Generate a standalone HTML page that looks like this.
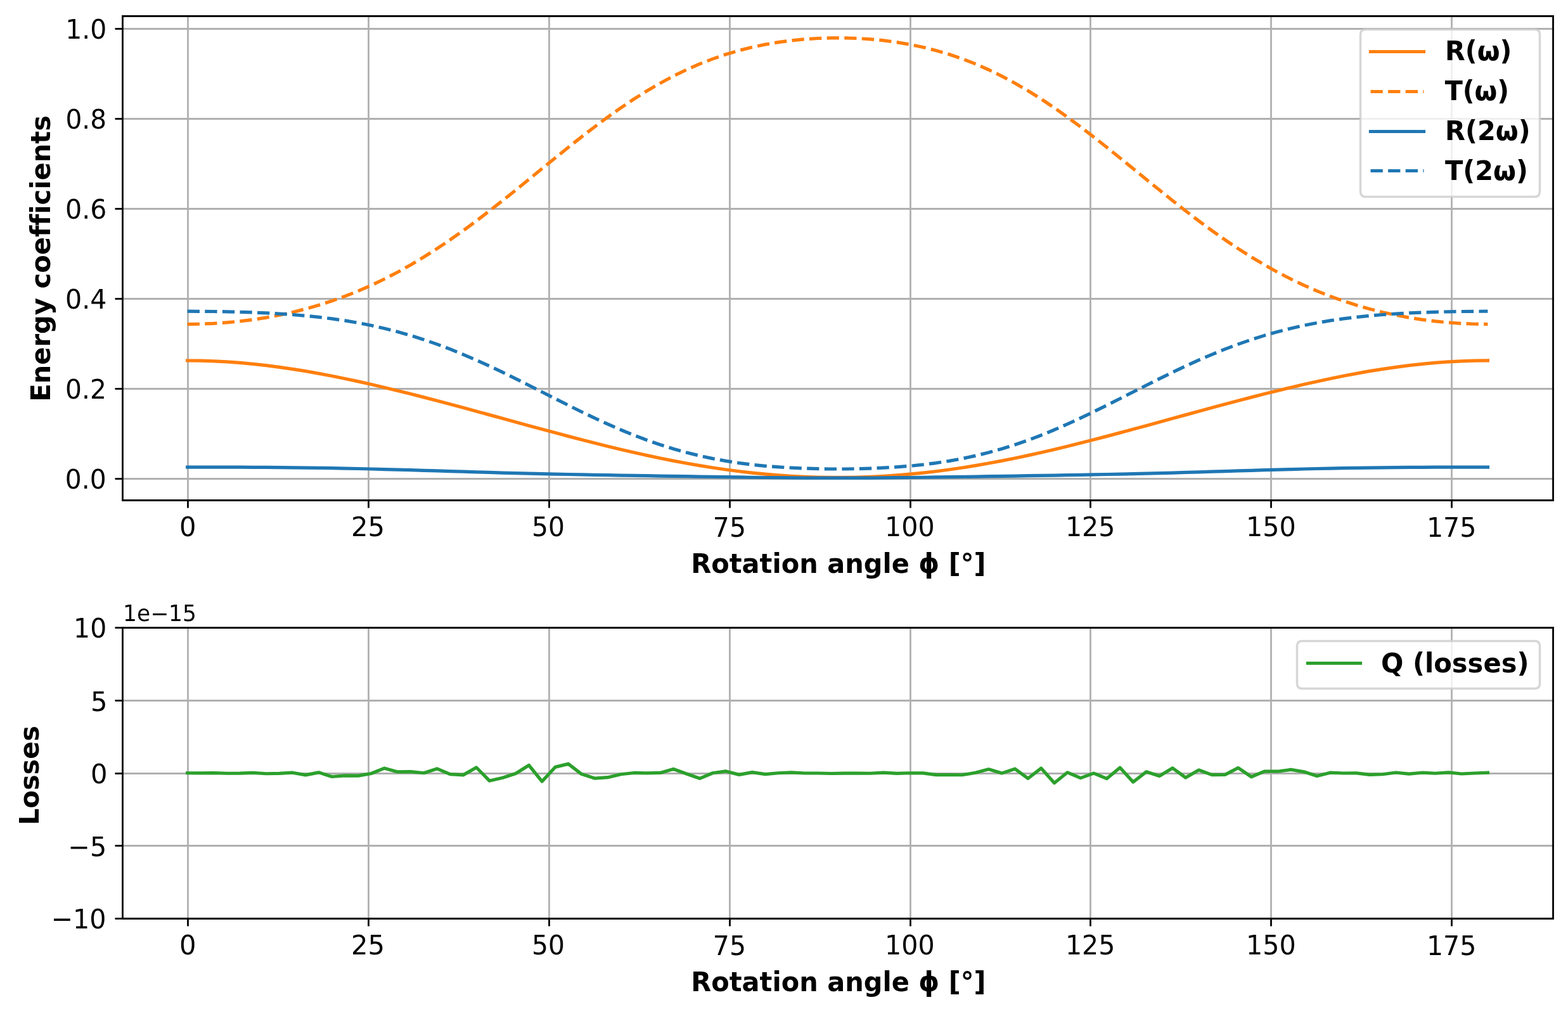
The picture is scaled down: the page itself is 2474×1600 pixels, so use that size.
<!DOCTYPE html>
<html lang="en">
<head>
<meta charset="utf-8">
<title>Energy coefficients vs rotation angle</title>
<style>
html,body{margin:0;padding:0;background:#ffffff;}
body{width:2474px;height:1600px;overflow:hidden;}
svg{display:block;}
text{white-space:pre;font-variant-ligatures:none;font-feature-settings:"liga" 0,"clig" 0,"dlig" 0;}
</style>
</head>
<body>
<svg xmlns="http://www.w3.org/2000/svg" width="2474" height="1600" viewBox="0 0 2474 1600" font-family="'DejaVu Sans', 'Liberation Sans', sans-serif">
<rect x="0" y="0" width="2474" height="1600" fill="#ffffff"/>
<defs>
<clipPath id="c1"><rect x="193.1" y="25" width="2256.9" height="764"/></clipPath>
<clipPath id="c2"><rect x="193.1" y="990.1" width="2256.9" height="459"/></clipPath>
</defs>
<g id="axes1">
<g stroke="#b0b0b0" stroke-width="2.778" fill="none" clip-path="url(#c1)">
<path d="M296.5 789V25"/>
<path d="M581.5 789V25"/>
<path d="M866.5 789V25"/>
<path d="M1151.5 789V25"/>
<path d="M1436.5 789V25"/>
<path d="M1720.5 789V25"/>
<path d="M2005.5 789V25"/>
<path d="M2290.5 789V25"/>
<path d="M193.1 755.5H2450"/>
<path d="M193.1 613.5H2450"/>
<path d="M193.1 471.5H2450"/>
<path d="M193.1 329.5H2450"/>
<path d="M193.1 187.5H2450"/>
<path d="M193.1 45.5H2450"/>
</g>
<g stroke="#000000" stroke-width="2.778" fill="none">
<path d="M296.5 789.5v12"/>
<path d="M581.5 789.5v12"/>
<path d="M866.5 789.5v12"/>
<path d="M1151.5 789.5v12"/>
<path d="M1436.5 789.5v12"/>
<path d="M1720.5 789.5v12"/>
<path d="M2005.5 789.5v12"/>
<path d="M2290.5 789.5v12"/>
<path d="M193.5 755.5h-12"/>
<path d="M193.5 613.5h-12"/>
<path d="M193.5 471.5h-12"/>
<path d="M193.5 329.5h-12"/>
<path d="M193.5 187.5h-12"/>
<path d="M193.5 45.5h-12"/>
</g>
<g fill="none" stroke-width="5.208" stroke-linejoin="round" clip-path="url(#c1)">
<polyline points="295.69,568.98 316.41,569.19 337.14,569.85 357.86,570.93 378.58,572.43 399.31,574.33 420.03,576.63 440.76,579.3 461.48,582.32 482.21,585.67 502.93,589.33 523.66,593.27 544.38,597.48 565.11,601.92 585.83,606.57 606.55,611.42 627.28,616.43 648,621.59 668.73,626.88 689.45,632.28 710.18,637.77 730.9,643.34 751.63,648.96 772.35,654.62 793.07,660.3 813.8,665.98 834.52,671.65 855.25,677.28 875.97,682.86 896.7,688.36 917.42,693.76 938.15,699.05 958.87,704.2 979.6,709.19 1000.32,714 1021.04,718.61 1041.77,723 1062.49,727.15 1083.22,731.04 1103.94,734.65 1124.67,737.99 1145.39,741.02 1166.12,743.74 1186.84,746.14 1207.57,748.21 1228.29,749.94 1249.01,751.34 1269.74,752.38 1290.46,753.09 1311.19,753.44 1331.91,753.44 1352.64,753.09 1373.36,752.38 1394.09,751.34 1414.81,749.94 1435.53,748.21 1456.26,746.14 1476.98,743.74 1497.71,741.02 1518.43,737.99 1539.16,734.65 1559.88,731.04 1580.61,727.15 1601.33,723 1622.06,718.61 1642.78,714 1663.5,709.19 1684.23,704.2 1704.95,699.05 1725.68,693.76 1746.4,688.36 1767.13,682.86 1787.85,677.28 1808.58,671.65 1829.3,665.98 1850.03,660.3 1870.75,654.62 1891.47,648.96 1912.2,643.34 1932.92,637.77 1953.65,632.28 1974.37,626.88 1995.1,621.59 2015.82,616.43 2036.55,611.42 2057.27,606.57 2077.99,601.92 2098.72,597.48 2119.44,593.27 2140.17,589.33 2160.89,585.67 2181.62,582.32 2202.34,579.3 2223.07,576.63 2243.79,574.33 2264.52,572.43 2285.24,570.93 2305.96,569.85 2326.69,569.19 2347.41,568.98" stroke="#ff7f0e" stroke-linecap="square"/>
<polyline points="295.69,511.53 316.41,511.25 337.14,510.39 357.86,508.96 378.58,506.94 399.31,504.33 420.03,501.09 440.76,497.22 461.48,492.69 482.21,487.47 502.93,481.53 523.66,474.85 544.38,467.41 565.11,459.17 585.83,450.11 606.55,440.23 627.28,429.51 648,417.95 668.73,405.57 689.45,392.4 710.18,378.47 730.9,363.83 751.63,348.56 772.35,332.74 793.07,316.47 813.8,299.85 834.52,283.02 855.25,266.09 875.97,249.21 896.7,232.5 917.42,216.12 938.15,200.19 958.87,184.83 979.6,170.16 1000.32,156.27 1021.04,143.26 1041.77,131.18 1062.49,120.08 1083.22,109.99 1103.94,100.92 1124.67,92.86 1145.39,85.78 1166.12,79.67 1186.84,74.47 1207.57,70.13 1228.29,66.61 1249.01,63.86 1269.74,61.84 1290.46,60.52 1311.19,59.86 1331.91,59.86 1352.64,60.52 1373.36,61.84 1394.09,63.86 1414.81,66.61 1435.53,70.13 1456.26,74.47 1476.98,79.67 1497.71,85.78 1518.43,92.86 1539.16,100.92 1559.88,109.99 1580.61,120.08 1601.33,131.18 1622.06,143.26 1642.78,156.27 1663.5,170.16 1684.23,184.83 1704.95,200.19 1725.68,216.12 1746.4,232.5 1767.13,249.21 1787.85,266.09 1808.58,283.02 1829.3,299.85 1850.03,316.47 1870.75,332.74 1891.47,348.56 1912.2,363.83 1932.92,378.47 1953.65,392.4 1974.37,405.57 1995.1,417.95 2015.82,429.51 2036.55,440.23 2057.27,450.11 2077.99,459.17 2098.72,467.41 2119.44,474.85 2140.17,481.53 2160.89,487.47 2181.62,492.69 2202.34,497.22 2223.07,501.09 2243.79,504.33 2264.52,506.94 2285.24,508.96 2305.96,510.39 2326.69,511.25 2347.41,511.53" stroke="#ff7f0e" stroke-linecap="butt" stroke-dasharray="19.271 8.333"/>
<polyline points="295.69,737.04 316.41,737.05 337.14,737.07 357.86,737.12 378.58,737.19 399.31,737.29 420.03,737.42 440.76,737.59 461.48,737.79 482.21,738.04 502.93,738.33 523.66,738.68 544.38,739.07 565.11,739.51 585.83,740 606.55,740.53 627.28,741.1 648,741.69 668.73,742.31 689.45,742.94 710.18,743.58 730.9,744.21 751.63,744.84 772.35,745.44 793.07,746.03 813.8,746.58 834.52,747.11 855.25,747.61 875.97,748.07 896.7,748.51 917.42,748.92 938.15,749.31 958.87,749.67 979.6,750.03 1000.32,750.38 1021.04,750.72 1041.77,751.05 1062.49,751.38 1083.22,751.71 1103.94,752.04 1124.67,752.36 1145.39,752.67 1166.12,752.97 1186.84,753.25 1207.57,753.5 1228.29,753.72 1249.01,753.91 1269.74,754.05 1290.46,754.15 1311.19,754.2 1331.91,754.2 1352.64,754.15 1373.36,754.05 1394.09,753.91 1414.81,753.72 1435.53,753.5 1456.26,753.25 1476.98,752.97 1497.71,752.67 1518.43,752.36 1539.16,752.04 1559.88,751.71 1580.61,751.38 1601.33,751.05 1622.06,750.72 1642.78,750.38 1663.5,750.03 1684.23,749.67 1704.95,749.31 1725.68,748.92 1746.4,748.51 1767.13,748.07 1787.85,747.61 1808.58,747.11 1829.3,746.58 1850.03,746.03 1870.75,745.44 1891.47,744.84 1912.2,744.21 1932.92,743.58 1953.65,742.94 1974.37,742.31 1995.1,741.69 2015.82,741.1 2036.55,740.53 2057.27,740 2077.99,739.51 2098.72,739.07 2119.44,738.68 2140.17,738.33 2160.89,738.04 2181.62,737.79 2202.34,737.59 2223.07,737.42 2243.79,737.29 2264.52,737.19 2285.24,737.12 2305.96,737.07 2326.69,737.05 2347.41,737.04" stroke="#1f77b4" stroke-linecap="square"/>
<polyline points="295.69,491.21 316.41,491.28 337.14,491.48 357.86,491.82 378.58,492.32 399.31,493.01 420.03,493.9 440.76,495.05 461.48,496.48 482.21,498.23 502.93,500.36 523.66,502.91 544.38,505.92 565.11,509.45 585.83,513.52 606.55,518.18 627.28,523.46 648,529.36 668.73,535.91 689.45,543.1 710.18,550.9 730.9,559.29 751.63,568.23 772.35,577.65 793.07,587.47 813.8,597.62 834.52,608 855.25,618.51 875.97,629.04 896.7,639.47 917.42,649.71 938.15,659.64 958.87,669.17 979.6,678.22 1000.32,686.7 1021.04,694.56 1041.77,701.76 1062.49,708.26 1083.22,714.07 1103.94,719.17 1124.67,723.6 1145.39,727.37 1166.12,730.55 1186.84,733.17 1207.57,735.29 1228.29,736.95 1249.01,738.21 1269.74,739.12 1290.46,739.7 1311.19,739.99 1331.91,739.99 1352.64,739.7 1373.36,739.12 1394.09,738.21 1414.81,736.95 1435.53,735.29 1456.26,733.17 1476.98,730.55 1497.71,727.37 1518.43,723.6 1539.16,719.17 1559.88,714.07 1580.61,708.26 1601.33,701.76 1622.06,694.56 1642.78,686.7 1663.5,678.22 1684.23,669.17 1704.95,659.64 1725.68,649.71 1746.4,639.47 1767.13,629.04 1787.85,618.51 1808.58,608 1829.3,597.62 1850.03,587.47 1870.75,577.65 1891.47,568.23 1912.2,559.29 1932.92,550.9 1953.65,543.1 1974.37,535.91 1995.1,529.36 2015.82,523.46 2036.55,518.18 2057.27,513.52 2077.99,509.45 2098.72,505.92 2119.44,502.91 2140.17,500.36 2160.89,498.23 2181.62,496.48 2202.34,495.05 2223.07,493.9 2243.79,493.01 2264.52,492.32 2285.24,491.82 2305.96,491.48 2326.69,491.28 2347.41,491.21" stroke="#1f77b4" stroke-linecap="butt" stroke-dasharray="19.271 8.333"/>
</g>
<path d="M193.5 789.5V25.5H2450.5V789.5Z" fill="none" stroke="#000000" stroke-width="2.778" stroke-linejoin="miter"/>
</g>
<g id="axes2">
<g stroke="#b0b0b0" stroke-width="2.778" fill="none" clip-path="url(#c2)">
<path d="M296.5 1449.1V990.1"/>
<path d="M581.5 1449.1V990.1"/>
<path d="M866.5 1449.1V990.1"/>
<path d="M1151.5 1449.1V990.1"/>
<path d="M1436.5 1449.1V990.1"/>
<path d="M1720.5 1449.1V990.1"/>
<path d="M2005.5 1449.1V990.1"/>
<path d="M2290.5 1449.1V990.1"/>
<path d="M193.1 1449.5H2450"/>
<path d="M193.1 1334.5H2450"/>
<path d="M193.1 1220.5H2450"/>
<path d="M193.1 1105.5H2450"/>
<path d="M193.1 990.5H2450"/>
</g>
<g stroke="#000000" stroke-width="2.778" fill="none">
<path d="M296.5 1449.5v12"/>
<path d="M581.5 1449.5v12"/>
<path d="M866.5 1449.5v12"/>
<path d="M1151.5 1449.5v12"/>
<path d="M1436.5 1449.5v12"/>
<path d="M1720.5 1449.5v12"/>
<path d="M2005.5 1449.5v12"/>
<path d="M2290.5 1449.5v12"/>
<path d="M193.5 1449.5h-12"/>
<path d="M193.5 1334.5h-12"/>
<path d="M193.5 1220.5h-12"/>
<path d="M193.5 1105.5h-12"/>
<path d="M193.5 990.5h-12"/>
</g>
<g fill="none" stroke-width="5.208" stroke-linejoin="round" clip-path="url(#c2)">
<polyline points="295.69,1219.73 316.41,1219.85 337.14,1219.6 357.86,1220.23 378.58,1220.1 399.31,1219.47 420.03,1220.73 440.76,1220.36 461.48,1219.22 482.21,1222.88 502.93,1218.84 523.66,1225.52 544.38,1223.88 565.11,1224.14 585.83,1220.48 606.55,1212.17 627.28,1217.96 648,1217.58 668.73,1219.73 689.45,1212.92 710.18,1221.62 730.9,1222.88 751.63,1211.03 772.35,1232.07 793.07,1227.29 813.8,1220.48 834.52,1207.5 855.25,1233.08 875.97,1210.4 896.7,1205.36 917.42,1221.36 938.15,1228.04 958.87,1226.66 979.6,1221.74 1000.32,1219.47 1021.04,1219.85 1041.77,1219.47 1062.49,1213.43 1083.22,1220.99 1103.94,1228.29 1124.67,1219.73 1145.39,1216.95 1166.12,1222.37 1186.84,1218.59 1207.57,1221.62 1228.29,1219.73 1249.01,1218.84 1269.74,1219.98 1290.46,1219.98 1311.19,1220.48 1331.91,1220.1 1352.64,1220.1 1373.36,1220.23 1394.09,1219.22 1414.81,1220.36 1435.53,1219.73 1456.26,1219.85 1476.98,1222.62 1497.71,1222.62 1518.43,1222.75 1539.16,1219.22 1559.88,1213.8 1580.61,1220.1 1601.33,1213.17 1622.06,1228.29 1642.78,1212.17 1663.5,1235.48 1684.23,1218.84 1704.95,1227.66 1725.68,1220.1 1746.4,1228.55 1767.13,1211.28 1787.85,1233.96 1808.58,1217.84 1829.3,1224.51 1850.03,1211.91 1870.75,1227.03 1891.47,1215.06 1912.2,1222.62 1932.92,1222.37 1953.65,1211.66 1974.37,1225.77 1995.1,1217.21 2015.82,1217.21 2036.55,1214.43 2057.27,1217.84 2077.99,1224.51 2098.72,1219.22 2119.44,1219.98 2140.17,1219.85 2160.89,1222.37 2181.62,1221.74 2202.34,1218.97 2223.07,1221.11 2243.79,1219.22 2264.52,1220.23 2285.24,1218.84 2305.96,1220.99 2326.69,1219.98 2347.41,1219.22" stroke="#2ca02c" stroke-linecap="square"/>
</g>
<path d="M193.5 1449.5V990.5H2450.5V1449.5Z" fill="none" stroke="#000000" stroke-width="2.778" stroke-linejoin="miter"/>
</g>
<g id="legend1">
<path d="M2154.5 310.5H2421.5Q2429.5 310.5 2429.5 301.5V54.5Q2429.5 46.5 2421.5 46.5H2154.5Q2146.5 46.5 2146.5 54.5V301.5Q2146.5 310.5 2154.5 310.5Z" fill="#ffffff" fill-opacity="0.8" stroke="#cccccc" stroke-opacity="0.8" stroke-width="3.472" stroke-linejoin="miter"/>
<path d="M2162.5 81.5H2246.5" stroke="#ff7f0e" stroke-width="5.208" stroke-linecap="square" fill="none"/>
<path d="M2162.5 144.5H2246.5" stroke="#ff7f0e" stroke-width="5.208" stroke-dasharray="19.271 8.333" fill="none"/>
<path d="M2162.5 207.5H2246.5" stroke="#1f77b4" stroke-width="5.208" stroke-linecap="square" fill="none"/>
<path d="M2162.5 269.5H2246.5" stroke="#1f77b4" stroke-width="5.208" stroke-dasharray="19.271 8.333" fill="none"/>
</g>
<g id="legend2">
<path d="M2054.5 1086.5H2421.5Q2429.5 1086.5 2429.5 1078.5V1019.5Q2429.5 1011.5 2421.5 1011.5H2054.5Q2046.5 1011.5 2046.5 1019.5V1078.5Q2046.5 1086.5 2054.5 1086.5Z" fill="#ffffff" fill-opacity="0.8" stroke="#cccccc" stroke-opacity="0.8" stroke-width="3.472" stroke-linejoin="miter"/>
<path d="M2063.5 1046.5H2146.5" stroke="#2ca02c" stroke-width="5.208" stroke-linecap="square" fill="none"/>
</g>
<g id="labels" fill="#000000">
<text id="t0" transform="translate(102.83 770.51) scale(0.9785 1.0404)" font-size="41.667">0.0</text>
<text id="t1" transform="translate(103.11 628.54) scale(0.9786 1.0414)" font-size="41.667">0.2</text>
<text id="t2" transform="translate(103.08 487.25) scale(0.9873 1.0225)" font-size="41.667">0.4</text>
<text id="t3" transform="translate(103.04 344.53) scale(0.9882 1.0388)" font-size="41.667">0.6</text>
<text id="t4" transform="translate(103.39 202.52) scale(0.9751 1.0398)" font-size="41.667">0.8</text>
<text id="t5" transform="translate(103.26 60.51) scale(0.9819 1.039)" font-size="41.667">1.0</text>
<text id="t6" transform="translate(283.01 845.51) scale(0.9989 1.0393)" font-size="41.667">0</text>
<text id="t7" transform="translate(554.03 846.42) scale(1.0012 1.0377)" font-size="41.667">25</text>
<text id="t8" transform="translate(839 846.41) scale(0.9801 1.0362)" font-size="41.667">50</text>
<text id="t9" transform="translate(1124.8 846.5) scale(0.9841 1.0328)" font-size="41.667">75</text>
<text id="t10" transform="translate(1396.01 845.51) scale(0.9893 1.0386)" font-size="41.667">100</text>
<text id="t11" transform="translate(1680.95 846.38) scale(0.9871 1.0355)" font-size="41.667">125</text>
<text id="t12" transform="translate(1966.01 846.44) scale(0.9897 1.0346)" font-size="41.667">150</text>
<text id="t13" transform="translate(2250.96 847.46) scale(0.9872 1.0305)" font-size="41.667">175</text>
<text id="t14" transform="translate(1090.17 903.5) scale(0.997 1.0256)" font-size="41.667" font-weight="bold">Rotation angle ϕ [°]</text>
<text id="t15" transform="translate(78.5 633.86) rotate(-90) scale(0.9994 1.0256)" font-size="41.667" font-weight="bold">Energy coefficients</text>
<text id="t16" transform="translate(80.38 1464.5) scale(0.99 1.0433)" font-size="41.667">−10</text>
<text id="t17" transform="translate(107.55 1351.46) scale(0.9899 1.0305)" font-size="41.667">−5</text>
<text id="t18" transform="translate(143.01 1235.51) scale(0.9989 1.0393)" font-size="41.667">0</text>
<text id="t19" transform="translate(143 1122.48) scale(1 1.0312)" font-size="41.667">5</text>
<text id="t20" transform="translate(116.08 1005.51) scale(0.9834 1.0412)" font-size="41.667">10</text>
<text id="t21" transform="translate(283.01 1505.51) scale(0.9989 1.0393)" font-size="41.667">0</text>
<text id="t22" transform="translate(554.03 1506.42) scale(1.0012 1.0377)" font-size="41.667">25</text>
<text id="t23" transform="translate(839 1506.41) scale(0.9801 1.0362)" font-size="41.667">50</text>
<text id="t24" transform="translate(1124.8 1506.5) scale(0.9841 1.0328)" font-size="41.667">75</text>
<text id="t25" transform="translate(1396.01 1505.51) scale(0.9893 1.0386)" font-size="41.667">100</text>
<text id="t26" transform="translate(1680.95 1506.38) scale(0.9871 1.0355)" font-size="41.667">125</text>
<text id="t27" transform="translate(1966.01 1506.44) scale(0.9897 1.0346)" font-size="41.667">150</text>
<text id="t28" transform="translate(2250.96 1507.46) scale(0.9872 1.0305)" font-size="41.667">175</text>
<text id="t29" transform="translate(1090.17 1563.5) scale(0.997 1.0256)" font-size="41.667" font-weight="bold">Rotation angle ϕ [°]</text>
<text id="t30" transform="translate(60.52 1301.92) rotate(-90) scale(0.9942 1.0344)" font-size="41.667" font-weight="bold">Losses</text>
<text id="t31" transform="translate(194.08 979.98) scale(0.9935 0.9982)" font-size="34.722">1e−15</text>
<text id="t32" transform="translate(2280.05 95.13) scale(0.9903 1.0077)" font-size="41.667" font-weight="bold">R(ω)</text>
<text id="t33" transform="translate(2279.68 158.13) scale(0.9877 1.0077)" font-size="41.667" font-weight="bold">T(ω)</text>
<text id="t34" transform="translate(2280.1 221.13) scale(0.9936 1.0077)" font-size="41.667" font-weight="bold">R(2ω)</text>
<text id="t35" transform="translate(2279.97 284.13) scale(0.995 1.0077)" font-size="41.667" font-weight="bold">T(2ω)</text>
<text id="t36" transform="translate(2179 1061.26) scale(1 1.0153)" font-size="41.667" font-weight="bold">Q (losses)</text>
</g>
</svg>
</body>
</html>
